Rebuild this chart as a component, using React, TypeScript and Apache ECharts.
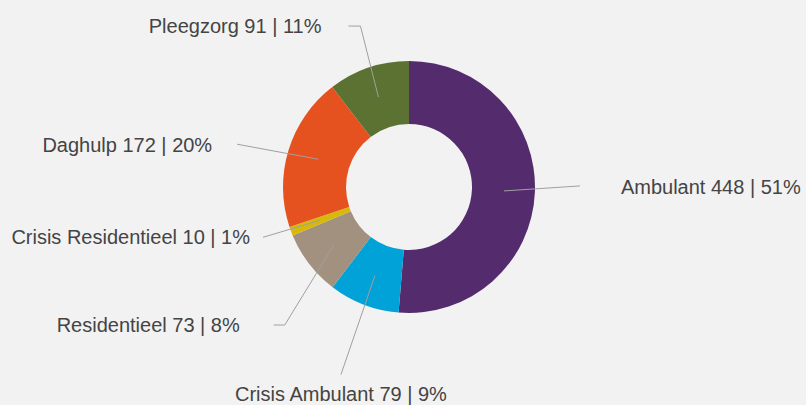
import React, { useEffect, useRef } from "react";
import * as echarts from "echarts";

const categories = [
  "Ambulant",
  "Crisis Ambulant",
  "Residentieel",
  "Crisis Residentieel",
  "Daghulp",
  "Pleegzorg",
];
const values = [448, 79, 73, 10, 172, 91];
const colors = ["#542b6c", "#00a2d8", "#a3917f", "#d6b90a", "#e5521f", "#5b7232"];

// leader-line layout per label: bend offset from line start, horizontal tail, text offset from line end
const leaders = [
  { bend: [76, -5], tail: 0, text: [41, 1], align: "left" },
  { bend: [-34, 99], tail: 0, text: [0, 19], align: "center" },
  { bend: [-49, 80], tail: -11, text: [-34, 0], align: "right" },
  { bend: [-57, 17], tail: 0, text: [-13, 0], align: "right" },
  { bend: [-81, -15], tail: 0, text: [-25, 1], align: "right" },
  { bend: [-18, -71], tail: -12, text: [-27, 0], align: "right" },
];

const CENTER = [409, 187];

export default function App() {
  const ref = useRef<HTMLDivElement>(null);
  useEffect(() => {
    document.body.style.margin = "0";
    const chart = echarts.init(ref.current!, null, { renderer: "svg" });
    const data = categories.map((name, i) => ({
      name,
      value: values[i],
      itemStyle: { color: colors[i] },
    }));
    chart.setOption({
      animation: false,
      backgroundColor: "#f2f2f2",
      series: [
        {
          type: "pie",
          z: 1,
          center: CENTER,
          radius: [63, 126],
          startAngle: 90,
          clockwise: true,
          silent: true,
          label: { show: false },
          labelLine: { show: false },
          itemStyle: { borderWidth: 0 },
          data,
        },
        {
          type: "pie",
          z: 5,
          center: CENTER,
          radius: [0, 95],
          startAngle: 90,
          clockwise: true,
          silent: true,
          percentPrecision: 0,
          avoidLabelOverlap: false,
          itemStyle: { color: "transparent", borderWidth: 0 },
          label: {
            show: true,
            formatter: "{b} {c} | {d}%",
            fontFamily: "'Liberation Sans', Arial, sans-serif",
            fontSize: 20,
            color: "#444444",
          },
          labelLine: {
            show: true,
            length: 20,
            length2: 0,
            lineStyle: { color: "#a0a0a0", width: 1 },
          },
          labelLayout: (params: any) => {
            const L = leaders[params.dataIndex];
            const pts = params.labelLinePoints;
            if (!pts || !pts.length) return {};
            const s = pts[0];
            const b = [s[0] + L.bend[0], s[1] + L.bend[1]];
            const e = [b[0] + L.tail, b[1]];
            const linePts = L.tail !== 0 ? [s, b, e] : [s, b];
            return {
              x: e[0] + L.text[0],
              y: e[1] + L.text[1],
              align: L.align,
              verticalAlign: "middle",
              labelLinePoints: linePts,
            };
          },
          data: categories.map((name, i) => ({ name, value: values[i] })),
        },
      ],
    });
    return () => chart.dispose();
  }, []);
  return <div ref={ref} style={{ width: 806, height: 405, background: "#f2f2f2" }} />;
}
